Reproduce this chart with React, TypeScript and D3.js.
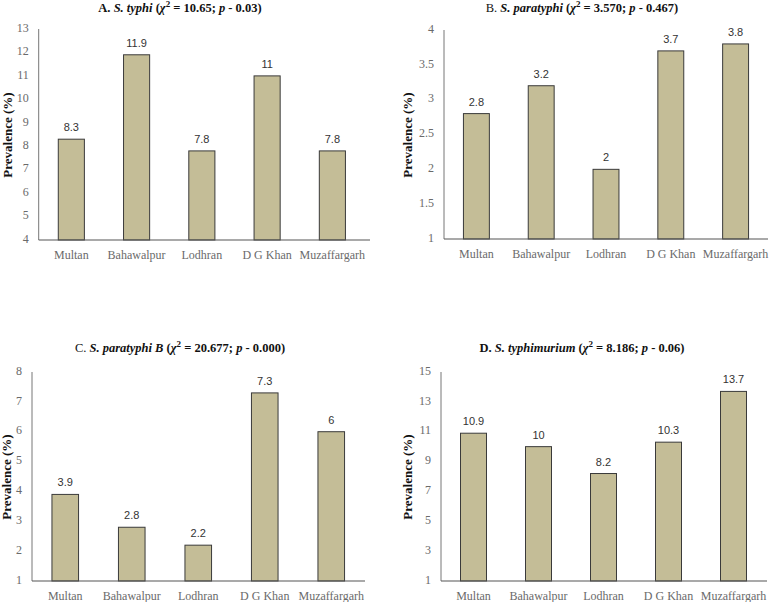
import React from "react";
import * as d3 from "d3";

const categories = ["Multan", "Bahawalpur", "Lodhran", "D G Khan", "Muzaffargarh"];
const typhiValues = [8.3, 11.9, 7.8, 11, 7.8];
const paratyphiValues = [2.8, 3.2, 2, 3.7, 3.8];
const paratyphiBValues = [3.9, 2.8, 2.2, 7.3, 6];
const typhimuriumValues = [10.9, 10, 8.2, 10.3, 13.7];

const typhiTicks = [4, 5, 6, 7, 8, 9, 10, 11, 12, 13];
const paratyphiTicks = [1, 1.5, 2, 2.5, 3, 3.5, 4];
const paratyphiBTicks = [1, 2, 3, 4, 5, 6, 7, 8];
const typhimuriumTicks = [1, 3, 5, 7, 9, 11, 13, 15];

type Panel = {
  letter: string;
  letterBold: boolean;
  species: string;
  chi: string;
  p: string;
  values: number[];
  ticks: number[];
  x0: number;
  x1: number;
  axisEnd: number;
  yTop: number;
  yBot: number;
  titleX: number;
  titleY: number;
  yTitleX: number;
  yTitleY: number;
};

const panels: Panel[] = [
  { letter: "A.", letterBold: true, species: "S. typhi", chi: "10.65", p: "0.03", values: typhiValues, ticks: typhiTicks,
    x0: 38.7, x1: 365, axisEnd: 370, yTop: 29, yBot: 240, titleX: 180, titleY: 12, yTitleX: 9.5, yTitleY: 135 },
  { letter: "B.", letterBold: false, species: "S. paratyphi", chi: "3.570", p: "0.467", values: paratyphiValues, ticks: paratyphiTicks,
    x0: 444, x1: 768, axisEnd: 768, yTop: 30, yBot: 239, titleX: 582, titleY: 12, yTitleX: 409, yTitleY: 135 },
  { letter: "C.", letterBold: false, species: "S. paratyphi B", chi: "20.677", p: "0.000", values: paratyphiBValues, ticks: paratyphiBTicks,
    x0: 32, x1: 364.5, axisEnd: 365, yTop: 372, yBot: 581, titleX: 180, titleY: 352, yTitleX: 8.5, yTitleY: 477 },
  { letter: "D.", letterBold: true, species: "S. typhimurium", chi: "8.186", p: "0.06", values: typhimuriumValues, ticks: typhimuriumTicks,
    x0: 441, x1: 766, axisEnd: 767, yTop: 372, yBot: 581, titleX: 582, titleY: 352, yTitleX: 409, yTitleY: 477 },
];

const serif = "Liberation Serif";
const sans = "Liberation Sans";

function ChartPanel({ pn }: { pn: Panel }) {
  const x = d3.scaleBand<string>().domain(categories).range([pn.x0, pn.x1]).paddingInner(0.6).paddingOuter(0.3);
  const y = d3.scaleLinear().domain([pn.ticks[0], pn.ticks[pn.ticks.length - 1]]).range([pn.yBot, pn.yTop]);
  return (
    <g>
      <text x={pn.titleX} y={pn.titleY} textAnchor="middle" style={{ fontFamily: serif }} fontSize={12.5} fill="#111" fontWeight="bold">
        <tspan fontWeight={pn.letterBold ? "bold" : "normal"}>{pn.letter} </tspan>
        <tspan fontStyle="italic">{pn.species}</tspan>
        <tspan> (</tspan>
        <tspan fontStyle="italic">χ</tspan>
        <tspan dy={-5} fontSize={9}>2</tspan>
        <tspan dy={5}> = {pn.chi}; </tspan>
        <tspan fontStyle="italic">p</tspan>
        <tspan> - {pn.p})</tspan>
      </text>
      <text transform={`translate(${pn.yTitleX},${pn.yTitleY}) rotate(-90)`} textAnchor="middle" dominantBaseline="middle"
        style={{ fontFamily: serif }} fontSize={13} fontWeight="bold" fill="#111">Prevalence  (%)</text>
      {pn.ticks.map((t) => (
        <text key={t} x={pn.x0 - 10} y={y(t)} textAnchor="end" dominantBaseline="middle" style={{ fontFamily: serif }} fontSize={12} fill="#6a6a6a">
          {t}
        </text>
      ))}
      {categories.map((c, i) => {
        const v = pn.values[i];
        const bx = x(c) as number;
        return (
          <g key={c}>
            <rect x={bx} y={y(v)} width={x.bandwidth()} height={pn.yBot - y(v)} fill="#C4BD97" stroke="#3a3a3a" strokeWidth={1} />
            <text x={bx + x.bandwidth() / 2} y={y(v) - 8} textAnchor="middle" style={{ fontFamily: sans }} fontSize={11} fill="#333">
              {v}
            </text>
            <text x={bx + x.bandwidth() / 2} y={pn.yBot + 19} textAnchor="middle" style={{ fontFamily: serif }} fontSize={12} fill="#6a6a6a">
              {c}
            </text>
          </g>
        );
      })}
      <line x1={pn.x0} x2={pn.x0} y1={pn.yTop} y2={pn.yBot} stroke="#777" strokeWidth={1} />
      <line x1={pn.x0} x2={pn.axisEnd} y1={pn.yBot} y2={pn.yBot} stroke="#555" strokeWidth={1.2} />
    </g>
  );
}

export default function App() {
  return (
    <svg width={769} height={602} style={{ position: "absolute", left: 0, top: 0, background: "#fff" }}>
      <rect width={769} height={602} fill="#fff" />
      {panels.map((pn) => (
        <ChartPanel key={pn.letter} pn={pn} />
      ))}
    </svg>
  );
}
